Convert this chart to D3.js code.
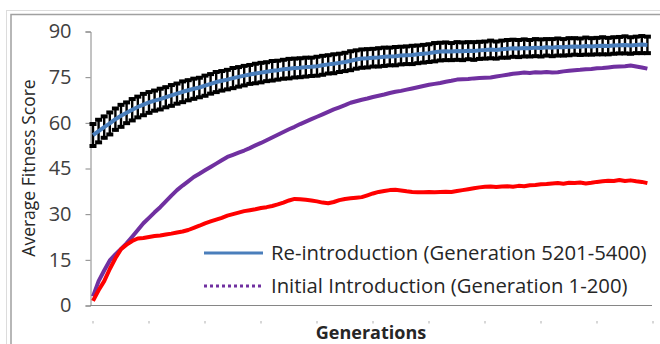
<!DOCTYPE html>
<html>
<head>
<meta charset="utf-8">
<script src="https://cdn.jsdelivr.net/npm/d3@7/dist/d3.min.js"></script>
<style>
  body { margin: 0; background: #fff; }
  svg { display: block; font-family: "Open Sans", sans-serif; }
</style>
</head>
<body>
<svg id="chart" width="660" height="344"></svg>
<script>
// generations sampled every 2 (0..198)
const generations = d3.range(0, 200, 2);

// Re-introduction (Generation 5201-5400) mean fitness
const reintro = [
  56.0, 57.3, 58.6, 59.8, 61.2, 62.3, 63.3, 64.3, 65.2, 66.0,
  66.7, 67.3, 67.8, 68.4, 69.0, 69.6, 70.2, 70.7, 71.2, 71.6,
  72.2, 72.8, 73.4, 73.8, 74.2, 74.7, 75.1, 75.5, 75.9, 76.2,
  76.5, 76.8, 77.1, 77.3, 77.6, 77.8, 78.0, 78.1, 78.3, 78.4,
  78.6, 78.9, 79.2, 79.4, 79.7, 80.0, 80.4, 80.8, 81.1, 81.2,
  81.4, 81.5, 81.7, 81.8, 81.9, 82.1, 82.2, 82.3, 82.5, 82.7,
  82.9, 83.2, 83.4, 83.5, 83.4, 83.6, 83.5, 83.7, 83.6, 83.8,
  83.9, 84.1, 83.9, 84.2, 84.3, 84.5, 84.4, 84.6, 84.5, 84.7,
  84.6, 84.8, 84.7, 84.9, 84.8, 85.0, 85.1, 85.0, 85.2, 85.1,
  85.2, 85.3, 85.2, 85.4, 85.5, 85.6, 85.4, 85.6, 85.7, 85.6
];

// error (+/-) on the re-introduction series
const reintroErr = [
  4.1, 4.2, 4.0, 4.1, 4.0, 4.1, 3.9, 4.0, 3.9, 4.0,
  3.9, 3.8, 3.9, 3.8, 3.9, 3.8, 3.9, 3.8, 3.8, 3.7,
  3.8, 3.7, 3.8, 3.7, 3.7, 3.8, 3.7, 3.7, 3.6, 3.7,
  3.7, 3.6, 3.7, 3.6, 3.6, 3.7, 3.6, 3.6, 3.6, 3.5,
  3.6, 3.6, 3.5, 3.6, 3.5, 3.5, 3.6, 3.5, 3.5, 3.5,
  3.4, 3.5, 3.5, 3.4, 3.5, 3.4, 3.4, 3.5, 3.4, 3.4,
  3.4, 3.5, 3.4, 3.4, 3.3, 3.4, 3.4, 3.3, 3.4, 3.3,
  3.3, 3.4, 3.3, 3.3, 3.4, 3.3, 3.3, 3.3, 3.2, 3.3,
  3.3, 3.2, 3.3, 3.3, 3.2, 3.3, 3.2, 3.2, 3.3, 3.2,
  3.2, 3.3, 3.2, 3.2, 3.2, 3.3, 3.2, 3.2, 3.3, 3.2
];

// Initial Introduction (Generation 1-200)
const initial = [
  3.0, 8.0, 11.5, 14.8, 16.8, 18.6, 20.4, 22.6, 24.8, 27.0,
  28.8, 30.6, 32.3, 34.2, 36.1, 37.9, 39.4, 40.8, 42.2, 43.3,
  44.4, 45.5, 46.6, 47.7, 48.8, 49.5, 50.2, 50.9, 51.7, 52.6,
  53.4, 54.3, 55.2, 56.1, 57.0, 57.9, 58.7, 59.6, 60.4, 61.2,
  62.0, 62.8, 63.6, 64.4, 65.1, 65.8, 66.6, 67.1, 67.6, 68.0,
  68.5, 68.9, 69.3, 69.8, 70.2, 70.5, 70.9, 71.3, 71.7, 72.1,
  72.5, 72.8, 73.1, 73.5, 73.8, 74.2, 74.3, 74.4, 74.6, 74.7,
  74.8, 74.9, 75.2, 75.5, 75.8, 76.1, 76.3, 76.5, 76.4, 76.6,
  76.5, 76.7, 76.5, 76.6, 76.9, 77.1, 77.3, 77.4, 77.6, 77.7,
  77.9, 78.0, 78.2, 78.4, 78.5, 78.6, 78.8, 78.5, 78.2, 77.8
];

// third (red) series, not in the legend
const redSeries = [
  1.5, 5.0, 8.0, 12.0, 15.5, 18.5, 20.0, 21.2, 22.0, 22.2,
  22.5, 22.8, 23.0, 23.3, 23.6, 24.0, 24.3, 24.8, 25.5, 26.2,
  27.0, 27.6, 28.2, 28.8, 29.5, 30.0, 30.5, 31.0, 31.3, 31.6,
  32.0, 32.3, 32.7, 33.2, 33.8, 34.5, 35.0, 34.9, 34.7, 34.5,
  34.2, 33.8, 33.6, 34.0, 34.6, 35.0, 35.2, 35.4, 35.6, 36.2,
  36.8, 37.3, 37.6, 37.9, 38.0, 37.8, 37.5, 37.3, 37.2, 37.2,
  37.3, 37.2, 37.3, 37.4, 37.3, 37.6, 37.9, 38.2, 38.5, 38.8,
  39.0, 39.1, 38.9, 39.1, 39.2, 39.0, 39.3, 39.2, 39.5, 39.6,
  39.8, 39.9, 40.1, 40.2, 40.0, 40.3, 40.2, 40.4, 40.1, 40.3,
  40.6, 40.8, 41.0, 40.9, 41.2, 40.9, 41.1, 40.8, 40.6, 40.2
];

const yTicks = [0, 15, 30, 45, 60, 75, 90];
const xTicks = [0, 20, 40, 60, 80, 100, 120, 140, 160, 180, 200];
const legendLabels = ["Re-introduction (Generation 5201-5400)", "Initial Introduction (Generation 1-200)"];

const svg = d3.select('#chart');

// chart frame
svg.append('rect').attr('x', 6.5).attr('y', 10.5).attr('width', 700).attr('height', 400)
  .attr('fill', 'none').attr('stroke', '#dcdcdc');
svg.append('rect').attr('x', 11).attr('y', 14.5).attr('width', 700).attr('height', 400)
  .attr('fill', 'none').attr('stroke', '#a0a0a0').attr('stroke-width', 1.5);

const x = d3.scaleLinear().domain([0, 200]).range([93, 653]);
const y = d3.scaleLinear().domain([0, 90]).range([305.5, 31.5]);

// y axis
const yAxis = svg.append('g').attr('transform', 'translate(90.5,0)')
  .call(d3.axisLeft(y).tickValues(yTicks).tickSize(5).tickPadding(14));
yAxis.select('.domain').attr('stroke', '#868686');
yAxis.selectAll('.tick line').attr('stroke', '#868686');
yAxis.selectAll('.tick text').attr('fill', '#404040')
  .style('font-size', '20px').style('font-family', '"Open Sans", sans-serif');

// x axis line
svg.append('line').attr('x1', 90).attr('x2', 652).attr('y1', 305.5).attr('y2', 305.5)
  .attr('stroke', '#868686');
// faint tick marks under the axis
svg.append('g').selectAll('rect').data(xTicks).join('rect')
  .attr('x', d => x(d) - 0.5).attr('y', 321).attr('width', 1).attr('height', 2.5)
  .attr('fill', '#b0b0b0');

const line = d3.line().x((d, i) => x(generations[i])).y(d => y(d));

// purple series
svg.append('path').datum(initial).attr('d', line)
  .attr('fill', 'none').attr('stroke', '#7030a0').attr('stroke-width', 4)
  .attr('stroke-linejoin', 'round');

// red series
svg.append('path').datum(redSeries).attr('d', line)
  .attr('fill', 'none').attr('stroke', '#ff0000').attr('stroke-width', 4)
  .attr('stroke-linejoin', 'round');

// error bars
const eb = svg.append('g').attr('stroke', '#000');
reintro.forEach((v, i) => {
  const cx = x(generations[i]);
  const top = y(v + reintroErr[i]), bot = y(v - reintroErr[i]);
  eb.append('line').attr('x1', cx).attr('x2', cx).attr('y1', top).attr('y2', bot)
    .attr('stroke-width', 2.4);
  eb.append('line').attr('x1', cx - 3.5).attr('x2', cx + 3.5).attr('y1', top + 1.5).attr('y2', top + 1.5)
    .attr('stroke-width', 4);
  eb.append('line').attr('x1', cx - 3.5).attr('x2', cx + 3.5).attr('y1', bot - 1.5).attr('y2', bot - 1.5)
    .attr('stroke-width', 4);
});

// blue series
svg.append('path').datum(reintro).attr('d', line)
  .attr('fill', 'none').attr('stroke', '#4a7ebb').attr('stroke-width', 4)
  .attr('stroke-linejoin', 'round');

// legend
const leg = svg.append('g');
leg.append('line').attr('x1', 204).attr('x2', 263).attr('y1', 253).attr('y2', 253)
  .attr('stroke', '#4a7ebb').attr('stroke-width', 3);
leg.append('line').attr('x1', 204).attr('x2', 263).attr('y1', 286).attr('y2', 286)
  .attr('stroke', '#7030a0').attr('stroke-width', 3).attr('stroke-dasharray', '3,3');
leg.selectAll('text').data(legendLabels).join('text')
  .attr('x', 271).attr('y', (d, i) => 260 + i * 33)
  .attr('fill', '#262626').style('font-size', '20.3px')
  .text(d => d);

// axis titles
svg.append('text').attr('transform', 'translate(35,168) rotate(-90)')
  .attr('text-anchor', 'middle').attr('fill', '#262626').style('font-size', '17.5px')
  .text('Average Fitness Score');
svg.append('text').attr('x', 371).attr('y', 339).attr('text-anchor', 'middle')
  .attr('fill', '#262626').style('font-size', '18px').style('font-weight', 'bold')
  .text('Generations');
</script>
</body>
</html>
